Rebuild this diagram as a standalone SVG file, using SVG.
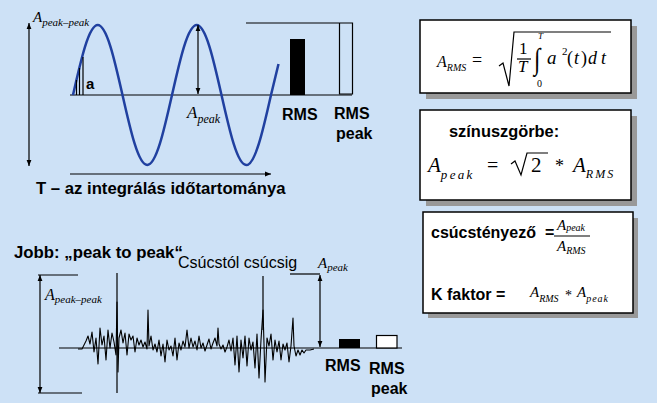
<svg xmlns="http://www.w3.org/2000/svg" width="657" height="403" viewBox="0 0 657 403">
<defs>
<marker id="ah" viewBox="0 0 10 10" refX="10" refY="5" markerWidth="7" markerHeight="6" orient="auto-start-reverse" markerUnits="userSpaceOnUse">
<path d="M0,1 L10,5 L0,9 z" fill="#000"/>
</marker>
<style>
.b{font-family:"Liberation Sans",Arial,sans-serif;font-weight:bold;fill:#000}
.r{font-family:"Liberation Sans",Arial,sans-serif;fill:#000}
.m{font-family:"Liberation Serif","Times New Roman",serif;font-style:italic;fill:#000}
.n{font-family:"Liberation Serif","Times New Roman",serif;fill:#000}
.ln{stroke:#000;stroke-width:1.2;fill:none}
.arr{stroke:#000;stroke-width:1.2;fill:none;marker-start:url(#ah);marker-end:url(#ah)}
.arr1{stroke:#000;stroke-width:1.2;fill:none;marker-end:url(#ah)}
.box{fill:#fff;stroke:#000;stroke-width:1.5}
.sh{fill:#999}
</style>
</defs>
<rect width="657" height="403" fill="#cde1f6"/>

<g id="sine-chart">
<line class="ln" x1="70" y1="95" x2="352" y2="95"/>
<path d="M73,95 C81.07,59.14 88.83,25 97.75,25 C106.67,25 114.43,59.14 122.5,95 C130.57,130.86 138.33,165 147.25,165 C156.17,165 163.930,130.86 172,95 C180.07,59.14 187.83,25 196.75,25 C205.67,25 213.43,59.14 221.5,95 C229.57,130.86 237.33,165 246.25,165 C255.17,165 262.93,130.86 271,95 L278.5,64" fill="none" stroke="#2040a0" stroke-width="2.5"/>
<path class="ln" d="M76.5,95 V80 M79.5,95 V68 M83,95 V57"/>
<text class="b" x="86" y="89" font-size="15">a</text>
<text class="m" x="33" y="22" font-size="15">A<tspan font-size="11" dy="4">peak–peak</tspan></text>
<text class="m" x="187" y="118" font-size="17">A<tspan font-size="12" dy="5">peak</tspan></text>
<rect x="290" y="39" width="15" height="56" fill="#000"/>
<path class="ln" d="M246,23 H352.5 V94 H339.5 V23"/>
<text class="b" x="282" y="120" font-size="16">RMS</text>
<text class="b" x="334" y="119" font-size="16">RMS</text>
<text class="b" x="336" y="139" font-size="16">peak</text>
<text class="b" x="36" y="194" font-size="16.7">T – az integrálás időtartománya</text>
</g>

<g id="noise-chart">
<line class="ln" x1="59" y1="348" x2="402" y2="348"/>
<line class="ln" x1="38" y1="275" x2="78" y2="275"/>
<line class="ln" x1="38" y1="393" x2="82" y2="393"/>
<line class="ln" x1="117" y1="273" x2="117" y2="393"/>
<line class="ln" x1="263" y1="276" x2="263" y2="330"/>
<line class="ln" x1="290" y1="274" x2="320" y2="274"/>
<path d="M78,349 L82,349 L84,345 L86,341 L88,336 L90,344 L92,332 L94,352 L96,338 L98,364 L100,328 L102,345 L104,336 L106,360 L108,330 L110,348 L112,333 L114,342 L116,355 L117,302 L118,372 L119,338 L121,330 L123,343 L125,333 L127,355 L129,334 L131,340 L133,336 L135,352 L137,338 L139,345 L141,340 L143,347 L145,342 L147,349 L148,310 L149,346 L151,336 L153,350 L155,344 L157,352 L159,340 L161,356 L163,344 L165,362 L167,340 L169,350 L171,346 L173,356 L175,338 L177,360 L179,343 L181,350 L183,341 L185,347 L187,330 L189,348 L191,338 L193,347 L195,341 L197,350 L199,336 L201,348 L203,343 L205,351 L207,345 L209,339 L211,349 L213,343 L215,338 L217,346 L218,328 L219,344 L221,349 L223,345 L225,352 L227,347 L229,340 L231,351 L233,338 L235,365 L237,336 L239,372 L241,340 L243,358 L245,336 L247,366 L249,338 L251,350 L253,342 L255,368 L257,334 L259,378 L261,340 L263,310 L264,344 L265,382 L267,338 L269,346 L271,334 L273,360 L275,340 L277,352 L279,341 L281,360 L283,344 L285,350 L287,343 L289,362 L291,346 L293,318 L294,346 L296,356 L298,350 L300,355 L302,350 L304,353 L306,350 L310,350 L314,349" fill="none" stroke="#000" stroke-width="1.1" stroke-linejoin="round"/>
<rect x="339" y="339" width="21" height="9" fill="#000"/>
<rect x="376.5" y="335.5" width="20.5" height="12.5" fill="#fff" stroke="#000" stroke-width="1.2"/>
<text class="b" x="14" y="258" font-size="16.8">Jobb: „peak to peak“</text>
<text class="r" x="178" y="268" font-size="16">Csúcstól csúcsig</text>
<text class="m" x="318" y="268" font-size="15">A<tspan font-size="11" dy="3">peak</tspan></text>
<text class="m" x="45" y="300" font-size="16">A<tspan font-size="11" dy="3">peak–peak</tspan></text>
<text class="b" x="325" y="371" font-size="16">RMS</text>
<text class="b" x="369" y="374" font-size="16">RMS</text>
<text class="b" x="371" y="394" font-size="16">peak</text>
</g>

<g id="connectors">
<line class="arr" x1="29" y1="23" x2="29" y2="166"/>
<line class="arr1" x1="70" y1="174" x2="271" y2="174"/>
<line class="arr" x1="198" y1="25" x2="198" y2="94"/>
<line class="arr" x1="40" y1="275" x2="40" y2="393"/>
<line class="arr" x1="320" y1="275" x2="320" y2="347"/>
</g>

<g id="box-rms">
<rect class="sh" x="426" y="26" width="211" height="73"/>
<rect class="box" x="420" y="20" width="211" height="73"/>
<text class="m" x="437" y="67" font-size="16">A<tspan font-size="10" dy="4">RMS</tspan></text>
<text class="n" x="472" y="66" font-size="18">=</text>
<path class="ln" d="M499,66 L503,63 L509,86 L514,32 L611,32"/>
<text class="n" x="519" y="54" font-size="17">1</text>
<line class="ln" x1="517" y1="59" x2="531" y2="59"/>
<text class="m" x="518" y="72" font-size="17">T</text>
<text class="n" transform="translate(534,69) scale(1,1.3)" font-size="23">∫</text>
<text class="m" x="538" y="39" font-size="9">T</text>
<text class="n" x="537" y="87" font-size="10">0</text>
<text class="m" x="547" y="64" font-size="19">a</text>
<text class="n" x="562" y="55" font-size="11">2</text>
<text class="n" x="567" y="64" font-size="18">(</text>
<text class="m" x="574" y="64" font-size="18">t</text>
<text class="n" x="581" y="64" font-size="18">)</text>
<text class="m" x="588" y="64" font-size="18">d</text>
<text class="m" x="601" y="64" font-size="18">t</text>
</g>

<g id="box-sine">
<rect class="sh" x="426" y="116" width="211" height="90"/>
<rect class="box" x="420" y="110" width="211" height="90"/>
<text class="b" x="449" y="137" font-size="16.4">színuszgörbe:</text>
<text class="m" x="428" y="172" font-size="21">A<tspan font-size="13" dy="7" letter-spacing="2.3">peak</tspan></text>
<text class="n" x="487" y="172" font-size="20">=</text>
<path class="ln" d="M511,164 L515,161 L521,175 L527,153 L548,153"/>
<text class="n" x="531" y="172" font-size="21">2</text>
<text class="n" x="555" y="172" font-size="18">*</text>
<text class="m" x="573" y="172" font-size="21">A<tspan font-size="12" dy="6" letter-spacing="2">RMS</tspan></text>
</g>

<g id="box-factors">
<rect class="sh" x="428" y="218" width="210" height="100"/>
<rect class="box" x="423" y="212" width="210" height="101"/>
<text class="b" x="431" y="238" font-size="16">csúcstényező</text>
<text class="b" x="545" y="238" font-size="16">=</text>
<text class="m" x="557" y="230" font-size="15">A<tspan font-size="10" dy="1">peak</tspan></text>
<line class="ln" x1="554" y1="236" x2="590" y2="236"/>
<text class="m" x="557" y="251" font-size="15">A<tspan font-size="10" dy="3">RMS</tspan></text>
<text class="b" x="431" y="300" font-size="16">K faktor =</text>
<text class="m" x="530" y="297" font-size="15">A<tspan font-size="10" dy="5">RMS</tspan></text>
<text class="n" x="565" y="300" font-size="14">*</text>
<text class="m" x="577" y="297" font-size="15">A<tspan font-size="10" dy="5" letter-spacing="1">peak</tspan></text>
</g>
</svg>
